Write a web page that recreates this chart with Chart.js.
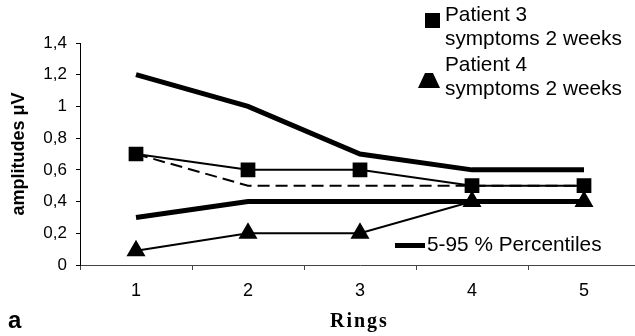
<!DOCTYPE html>
<html>
<head>
<meta charset="utf-8">
<script src="https://cdn.jsdelivr.net/npm/chart.js@4/dist/chart.umd.min.js"></script>
<style>
html,body{margin:0;padding:0;background:#ffffff;overflow:hidden;}
#wrap{width:635px;height:336px;position:relative;overflow:hidden;}
canvas{display:block;}
</style>
</head>
<body>
<div id="wrap"><canvas id="c" width="640" height="336"></canvas></div>
<script>
// ---- data ----
const rings = ['1', '2', '3', '4', '5'];
const percentile95 = [1.2, 1.0, 0.7, 0.6, 0.6];
const percentile5 = [0.3, 0.4, 0.4, 0.4, 0.4];
const medianLine = [0.7, 0.5, 0.5, 0.5, 0.5];
const patient3 = [0.7, 0.6, 0.6, 0.5, 0.5];
const patient4 = [0.09, 0.2, 0.2, 0.4, 0.4];
const yMin = 0, yMax = 1.4, yStep = 0.2;

const yTitle = 'amplitudes \u03BCV';
const xTitle = 'Rings';
const panelLetter = 'a';
const legendP3 = ['Patient 3', 'symptoms 2 weeks'];
const legendP4 = ['Patient 4', 'symptoms 2 weeks'];
const legendPct = '5-95 % Percentiles';

const SANS = '"Liberation Sans", Arial, Helvetica, sans-serif';
const SERIF = '"Liberation Serif", "Times New Roman", serif';

const fmt = v => {
  const n = Math.round(v * 10) / 10;
  return String(n).replace('.', ',');
};

const extras = {
  id: 'extras',
  afterDraw(chart) {
    const ctx = chart.ctx;
    ctx.save();
    ctx.fillStyle = '#000';
    ctx.strokeStyle = '#000';
    ctx.textBaseline = 'alphabetic';
    ctx.textAlign = 'left';
    // legend: patient 3
    ctx.fillRect(425, 13, 15, 15);
    ctx.font = '20.8px ' + SANS;
    ctx.fillText(legendP3[0], 445, 21);
    ctx.fillText(legendP3[1], 445, 45);
    // legend: patient 4
    ctx.beginPath();
    ctx.moveTo(418, 88);
    ctx.lineTo(440, 88);
    ctx.lineTo(433, 73);
    ctx.lineTo(425, 73);
    ctx.closePath();
    ctx.fill();
    ctx.fillText(legendP4[0], 445, 71);
    ctx.fillText(legendP4[1], 445, 95);
    // legend: percentiles
    ctx.fillRect(395, 243, 30, 5);
    ctx.fillText(legendPct, 427, 251);
    // panel letter
    ctx.font = 'bold 24px ' + SANS;
    ctx.fillText(panelLetter, 8, 328);
    // x title
    ctx.font = 'bold 20px ' + SERIF;
    try { ctx.letterSpacing = '2px'; } catch (e) {}
    ctx.fillText(xTitle, 330, 327);
    ctx.restore();
  }
};

new Chart(document.getElementById('c'), {
  type: 'line',
  data: {
    labels: rings,
    datasets: [
      { label: '95 %', data: percentile95, borderColor: '#000', borderWidth: 5, pointRadius: 0, fill: false, tension: 0 },
      { label: '5 %', data: percentile5, borderColor: '#000', borderWidth: 5, pointRadius: 0, fill: false, tension: 0 },
      { label: 'median', data: medianLine, borderColor: '#000', borderWidth: 2, borderDash: [12, 6], pointRadius: 0, fill: false, tension: 0 },
      { label: 'Patient 3', data: patient3, borderColor: '#000', borderWidth: 2, pointStyle: 'rect', pointRadius: 9, pointBackgroundColor: '#000', pointBorderColor: '#000', fill: false, tension: 0 },
      { label: 'Patient 4', data: patient4, borderColor: '#000', borderWidth: 2, pointStyle: 'triangle', pointRadius: 9, pointBackgroundColor: '#000', pointBorderColor: '#000', fill: false, tension: 0 }
    ]
  },
  options: {
    responsive: false,
    devicePixelRatio: 1,
    animation: false,
    layout: { autoPadding: false, padding: { top: 43, right: 0, bottom: 0, left: 0 } },
    plugins: { legend: { display: false }, tooltip: { enabled: false }, title: { display: false } },
    scales: {
      x: {
        type: 'category',
        offset: true,
        grid: { offset: true, drawOnChartArea: false, drawTicks: true, tickLength: 5, color: '#444' },
        border: { display: true, color: '#444', width: 1 },
        ticks: { color: '#000', font: { family: SANS, size: 18 }, padding: 10 },
        afterFit(s) { s.height = 71; s.paddingLeft = 0; s.paddingRight = 0; }
      },
      y: {
        min: yMin, max: yMax,
        grid: { drawOnChartArea: false, drawTicks: true, tickLength: 4, color: '#000' },
        border: { display: true, color: '#000', width: 1 },
        ticks: { stepSize: yStep, color: '#000', font: { family: SANS, size: 17 }, padding: 9, callback: v => fmt(v) },
        title: { display: true, text: yTitle, color: '#000', font: { family: SANS, size: 18, weight: 'bold' }, padding: { top: 8, bottom: 0 } },
        afterFit(s) { s.width = 80; }
      }
    }
  },
  plugins: [extras]
});
</script>
</body>
</html>
